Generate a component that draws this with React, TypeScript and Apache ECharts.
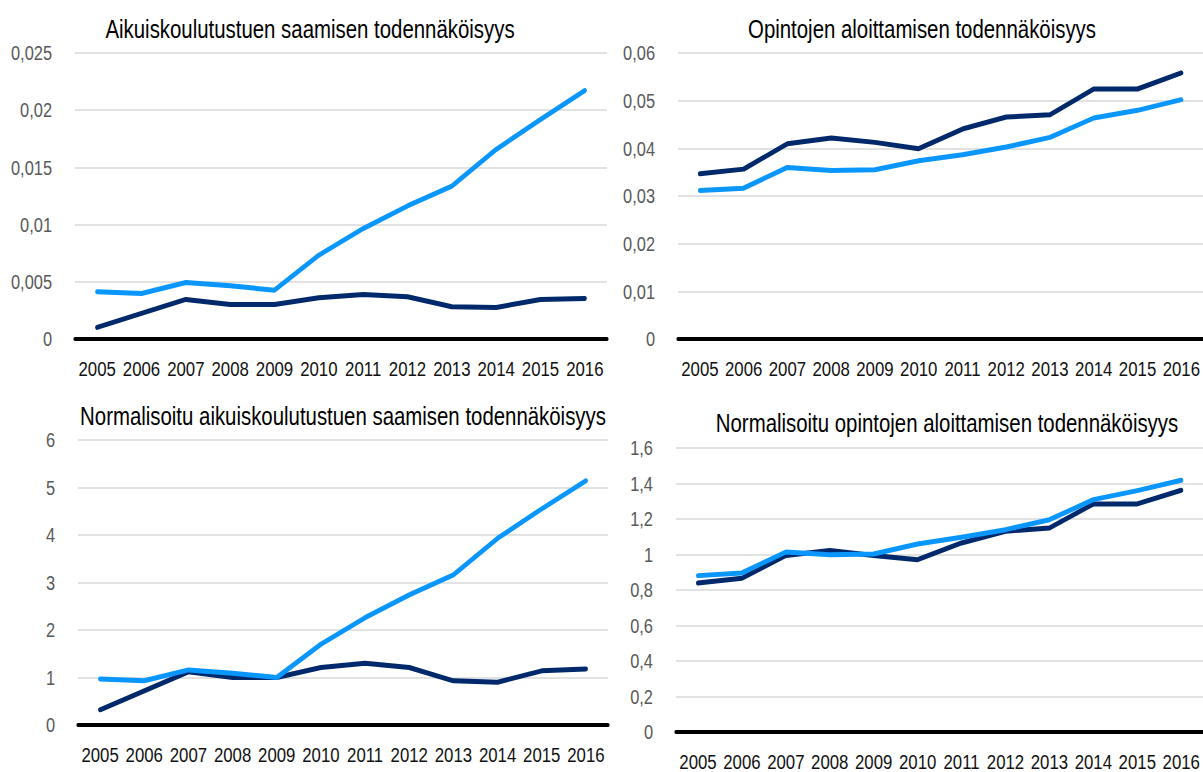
import React, { useEffect, useRef } from "react";
import * as echarts from "echarts";

const years = ["2005", "2006", "2007", "2008", "2009", "2010", "2011", "2012", "2013", "2014", "2015", "2016"];

const titles = [
  "Aikuiskoulutustuen saamisen todennäköisyys",
  "Opintojen aloittamisen todennäköisyys",
  "Normalisoitu aikuiskoulutustuen saamisen todennäköisyys",
  "Normalisoitu opintojen aloittamisen todennäköisyys",
];

const supportLight = [0.00413, 0.00398, 0.00494, 0.00465, 0.00427, 0.00733, 0.00965, 0.01163, 0.01337, 0.01657, 0.01919, 0.02172];
const supportDark = [0.00102, 0.00224, 0.00346, 0.00302, 0.00302, 0.0036, 0.0039, 0.00369, 0.00282, 0.00276, 0.00346, 0.00355];

const studyDark = [0.03466, 0.03564, 0.04097, 0.04216, 0.04125, 0.03992, 0.04405, 0.04657, 0.04706, 0.05245, 0.05245, 0.05581];
const studyLight = [0.03116, 0.03165, 0.036, 0.03536, 0.0355, 0.0374, 0.03866, 0.04027, 0.0423, 0.04636, 0.04797, 0.05021];

const normSupportLight = [0.97, 0.93, 1.16, 1.09, 1.0, 1.7, 2.26, 2.74, 3.16, 3.93, 4.55, 5.14];
const normSupportDark = [0.32, 0.72, 1.12, 1.0, 1.0, 1.21, 1.3, 1.21, 0.93, 0.9, 1.14, 1.18];

const normStudyLight = [0.881, 0.896, 1.014, 0.999, 1.003, 1.059, 1.097, 1.14, 1.196, 1.309, 1.36, 1.418];
const normStudyDark = [0.839, 0.866, 0.995, 1.023, 0.995, 0.971, 1.065, 1.131, 1.149, 1.285, 1.285, 1.362];

const yMax = [0.025, 0.06, 6, 1.6];
const yStep = [0.005, 0.01, 1, 0.2];

const DARK = "#00296b";
const LIGHT = "#0a96ff";
const FONT = "'Liberation Sans', Arial, sans-serif";

// horizontal condensing factor (the reference uses a condensed typeface)
const S = 0.8;

const grids = [
  { left: 75, top: 53, width: 532, height: 286 },
  { left: 678, top: 53, width: 539, height: 286 },
  { left: 78, top: 440, width: 530, height: 285 },
  { left: 676, top: 448, width: 537, height: 284 },
];

const titlePos = [
  { x: 310, y: 29 },
  { x: 922, y: 29 },
  { x: 343, y: 416 },
  { x: 947, y: 423 },
];

const fmt = (v: number) => String(Number(v.toPrecision(6))).replace(".", ",");

export default function App() {
  const ref = useRef<HTMLDivElement>(null);
  useEffect(() => {
    if (!ref.current) return;
    const chart = echarts.init(ref.current, undefined, { renderer: "svg" });
    const seriesData = [
      [supportDark, supportLight],
      [studyDark, studyLight],
      [normSupportDark, normSupportLight],
      [normStudyDark, normStudyLight],
    ];
    const series: any[] = [];
    seriesData.forEach((pair, i) => {
      pair.forEach((d, j) => {
        series.push({
          type: "line",
          xAxisIndex: i,
          yAxisIndex: i,
          data: d,
          symbol: "none",
          lineStyle: { color: j === 0 ? DARK : LIGHT, width: 5, cap: "round", join: "round" },
          z: j === 0 ? 3 : 4,
        });
      });
    });
    chart.setOption({
      animation: false,
      backgroundColor: "#ffffff",
      grid: grids.map((g) => ({
        left: g.left / S,
        top: g.top,
        width: g.width / S,
        height: g.height,
        containLabel: false,
      })),
      xAxis: grids.map((_, i) => ({
        type: "category",
        gridIndex: i,
        data: years,
        boundaryGap: true,
        axisLine: { lineStyle: { color: "#000000", width: 4 } },
        axisTick: { show: false },
        axisLabel: { interval: 0, color: "#111111", fontFamily: FONT, fontSize: 21, margin: 19 },
      })),
      yAxis: grids.map((_, i) => ({
        type: "value",
        gridIndex: i,
        min: 0,
        max: yMax[i],
        interval: yStep[i],
        axisLine: { show: false },
        axisTick: { show: false },
        splitLine: { lineStyle: { color: "#d9d9d9", width: 1.5 } },
        axisLabel: { color: "#595959", fontFamily: FONT, fontSize: 20.5, margin: 23 / S, formatter: fmt },
      })),
      graphic: titles.map((t, i) => ({
        type: "text",
        x: titlePos[i].x / S,
        y: titlePos[i].y,
        style: {
          text: t,
          fill: "#000000",
          font: `25.5px ${FONT}`,
          textAlign: "center",
          textVerticalAlign: "middle",
        },
      })),
      series,
    });
    return () => chart.dispose();
  }, []);
  return (
    <div
      ref={ref}
      style={{
        position: "fixed",
        left: 0,
        top: 0,
        width: 1203 / S,
        height: 772,
        background: "#fff",
        transform: `scaleX(${S})`,
        transformOrigin: "0 0",
      }}
    />
  );
}
